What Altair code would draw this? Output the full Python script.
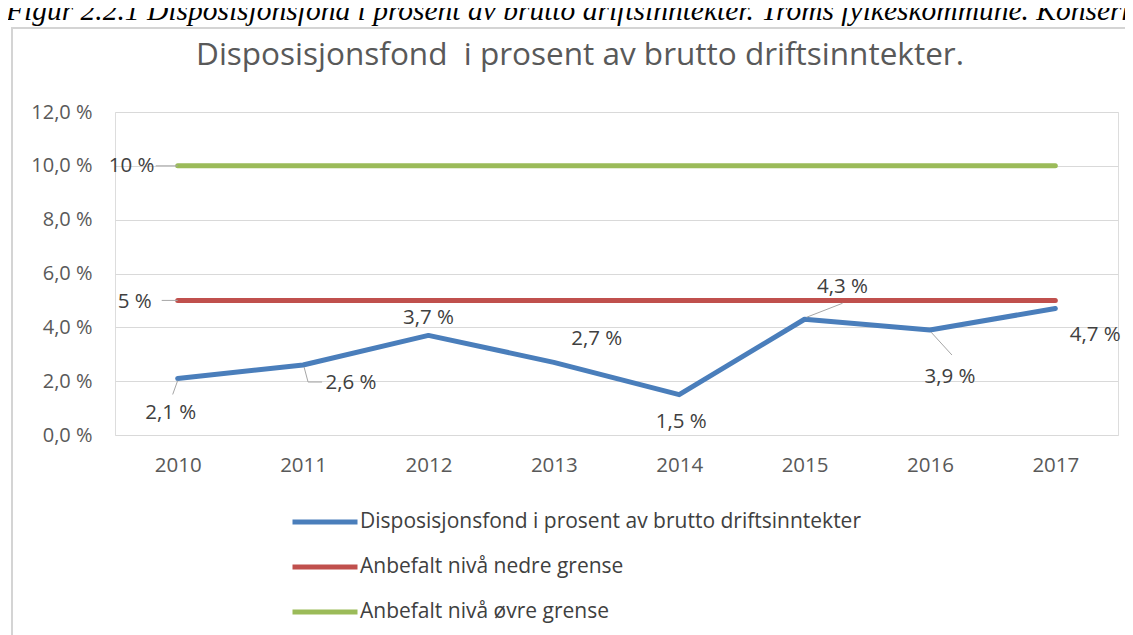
import altair as alt
import pandas as pd

# ---- data ----
years = ["2010", "2011", "2012", "2013", "2014", "2015", "2016", "2017"]
disp = [2.1, 2.6, 3.7, 2.7, 1.5, 4.3, 3.9, 4.7]
lower = [5, 5, 5, 5, 5, 5, 5, 5]
upper = [10, 10, 10, 10, 10, 10, 10, 10]
series = [
    "Disposisjonsfond i prosent av brutto driftsinntekter",
    "Anbefalt nivå nedre grense",
    "Anbefalt nivå øvre grense",
]
colors = ["#4a7ebb", "#c0504d", "#9bbb59"]
y_ticks = [0, 2, 4, 6, 8, 10, 12]
title_text = "Disposisjonsfond\u00a0 i prosent av brutto driftsinntekter."
caption_text = "Figur 2.2.1 Disposisjonsfond i prosent av brutto driftsinntekter. Troms fylkeskommune. Konsern"

rows = []
for name, vals in zip(series, [disp, lower, upper]):
    for yr, v in zip(years, vals):
        rows.append({"year": yr, "value": v, "series": name,
                     "label": f"{v:.1f}".replace(".", ",") + " %" if name == series[0] else f"{v:g} %"})
df = pd.DataFrame(rows)

FONT = "Open Sans"
W, H = 1003, 323

xenc = alt.X("year:O", scale=alt.Scale(type="point", padding=0.5), sort=years,
             axis=alt.Axis(title=None, labelAngle=0, ticks=False, domain=False, grid=False,
                           labelFontSize=20.5, labelFont=FONT, labelColor="#595959", labelPadding=20))
yenc = alt.Y("value:Q", scale=alt.Scale(domain=[0, 12], nice=False, zero=True),
             axis=alt.Axis(title=None, values=y_ticks, ticks=False, domain=False,
                           labelExpr="replace(format(datum.value, '.1f'), '.', ',') + ' %'",
                           labelFontSize=20, labelFont=FONT, labelColor="#595959", labelPadding=23,
                           gridColor="#d9d9d9", gridWidth=1))

base = alt.Chart(df)

border = alt.Chart(pd.DataFrame({"k": [0]})).mark_rect(
    fillOpacity=0, stroke="#d4d4d4", strokeWidth=2
).encode(x=alt.value(-103), x2=alt.value(1040), y=alt.value(-84), y2=alt.value(600))

lines = base.mark_line(strokeWidth=5, strokeCap="round", strokeJoin="round").encode(
    x=xenc, y=yenc,
    color=alt.Color("series:N", scale=alt.Scale(domain=series, range=colors),
                    legend=alt.Legend(title=None, orient="none", legendX=175, legendY=375,
                                      symbolType="stroke", symbolSize=4225, symbolStrokeWidth=5,
                                      labelFontSize=21, labelFont=FONT, labelColor="#404040",
                                      labelOffset=0, rowPadding=-26, direction="vertical",
                                      labelLimit=800)),
    order=alt.Order("year:O"),
)

# leader-line segments: (series index, year, x1, y1, x2, y2) offsets from the point
leaders = [
    (0, "2010", 0, 2, -5, 16),
    (0, "2011", 1, 2, 5, 17),
    (0, "2011", 5, 17, 19, 17),
    (0, "2015", 2, -2, 38, -16),
    (0, "2016", 1, 2, 22, 25),
    (2, "2010", -22, 0, 0, 0),
    (1, "2010", -16, 0, 0, 0),
]
leader_layers = []
for si, yr, x1, y1, x2, y2 in leaders:
    leader_layers.append(
        base.transform_filter((alt.datum.series == series[si]) & (alt.datum.year == yr))
        .mark_rule(color="#a6a6a6", strokeWidth=1, xOffset=x1, yOffset=y1, x2Offset=x2, y2Offset=y2)
        .encode(x=xenc, y=yenc, x2=alt.X2("year"), y2=alt.Y2("value"))
    )

# data label offsets (dx, dy) from each point
offsets = {
    (0, "2010"): (-7, 35), (0, "2011"): (48, 18), (0, "2012"): (0, -17), (0, "2013"): (43, -23),
    (0, "2014"): (2, 27), (0, "2015"): (38, -32), (0, "2016"): (20, 47), (0, "2017"): (40, 27),
    (2, "2010"): (-46, 0), (1, "2010"): (-43, 2),
}
label_layers = []
for (si, yr), (dx, dy) in offsets.items():
    label_layers.append(
        base.transform_filter((alt.datum.series == series[si]) & (alt.datum.year == yr))
        .mark_text(dx=dx, dy=dy, fontSize=20.5, font=FONT, color="#404040", baseline="middle", align="center")
        .encode(x=xenc, y=yenc, text="label:N")
    )

title = alt.Chart(pd.DataFrame({"t": [title_text]})).mark_text(
    fontSize=31.5, font=FONT, color="#595959", align="center", baseline="alphabetic"
).encode(x=alt.value(465), y=alt.value(-47), text="t:N")

caption = alt.Chart(pd.DataFrame({"t": [caption_text]})).mark_text(
    fontSize=29.5, font="Liberation Serif", fontStyle="italic", color="#000000",
    align="left", baseline="alphabetic"
).encode(x=alt.value(-109), y=alt.value(-92), text="t:N")

chart = alt.layer(border, lines, *leader_layers, *label_layers, title, caption).properties(
    width=W, height=H,
    autosize=alt.AutoSizeParams(type="none"),
    padding={"left": 107, "top": 104, "right": 7, "bottom": 200},
).configure_view(stroke=None).configure(background="white")

chart.save("out.html", embed_options={"renderer": "svg", "actions": False})
